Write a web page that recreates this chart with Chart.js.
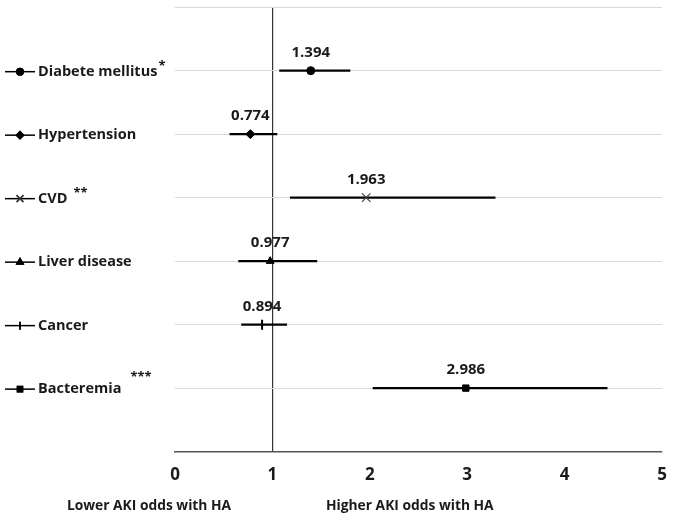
<!DOCTYPE html>
<html>
<head>
<meta charset="utf-8">
<script src="https://cdn.jsdelivr.net/npm/chart.js@4/dist/chart.umd.min.js"></script>
<style>
  html, body { margin: 0; padding: 0; background: #fff; }
  #wrap { width: 675px; height: 521px; }
</style>
</head>
<body>
<div id="wrap"><canvas id="c" width="675" height="521"></canvas></div>
<script>
const categories = ['Diabete mellitus', 'Hypertension', 'CVD', 'Liver disease', 'Cancer', 'Bacteremia'];
const significance = ['*', '', '**', '', '', '***'];
const oddsRatios = [1.394, 0.774, 1.963, 0.977, 0.894, 2.986];
const ciLower = [1.07, 0.56, 1.18, 0.65, 0.68, 2.03];
const ciUpper = [1.80, 1.05, 3.29, 1.46, 1.15, 4.44];
const xTickValues = [0, 1, 2, 3, 4, 5];
const axisNotes = ['Lower AKI odds with HA', 'Higher AKI odds with HA'];

const markerStyles = [
  { pointStyle: 'circle', radius: 4, borderWidth: 1, color: '#000' },
  { pointStyle: 'rectRot', radius: 4.5, borderWidth: 1, color: '#000' },
  { pointStyle: 'crossRot', radius: 6, borderWidth: 1.2, color: '#404040' },
  { pointStyle: 'triangle', radius: 4.5, borderWidth: 1, color: '#000' },
  { pointStyle: 'line', radius: 5, borderWidth: 2, color: '#000', rotation: 90 },
  { pointStyle: 'rect', radius: 4.5, borderWidth: 1, color: '#000' }
];

const nRows = categories.length;
const rowY = i => nRows - i;

const datasets = [];
categories.forEach((cat, i) => {
  datasets.push({
    label: cat + ' CI',
    data: [{ x: ciLower[i], y: rowY(i) }, { x: ciUpper[i], y: rowY(i) }],
    showLine: true,
    borderColor: '#000',
    borderWidth: 2.2,
    pointRadius: 0,
    order: 2
  });
});
categories.forEach((cat, i) => {
  const m = markerStyles[i];
  datasets.push({
    label: cat,
    data: [{ x: oddsRatios[i], y: rowY(i) }],
    pointStyle: m.pointStyle,
    pointRadius: m.radius,
    pointRotation: m.rotation || 0,
    pointBorderWidth: m.borderWidth,
    pointBackgroundColor: m.color,
    pointBorderColor: m.color,
    showLine: false,
    order: 1
  });
});

const FONT = "'Open Sans', 'Liberation Sans', sans-serif";

const annotate = {
  id: 'annotate',
  afterDatasetsDraw(chart) {
    const ctx = chart.ctx;
    const xs = chart.scales.x, ys = chart.scales.y;
    ctx.save();
    // value labels
    ctx.font = `bold 15px ${FONT}`;
    ctx.fillStyle = '#1a1a1a';
    ctx.textAlign = 'center';
    ctx.textBaseline = 'middle';
    oddsRatios.forEach((v, i) => {
      ctx.fillText(v.toFixed(3), xs.getPixelForValue(v), ys.getPixelForValue(rowY(i)) - 18);
    });
    // left category labels with legend symbols
    categories.forEach((cat, i) => {
      const y = ys.getPixelForValue(rowY(i)) + 1;
      const m = markerStyles[i];
      ctx.strokeStyle = '#000';
      ctx.lineWidth = 1.5;
      ctx.beginPath();
      ctx.moveTo(5, y); ctx.lineTo(35, y); ctx.stroke();
      Chart.helpers.drawPoint(ctx, {
        pointStyle: m.pointStyle, radius: m.radius * 0.8, rotation: m.rotation || 0,
        borderWidth: m.borderWidth
      }, 20, y);
      ctx.strokeStyle = m.color;
      ctx.fillStyle = m.color;
      ctx.fill();
      ctx.stroke();
      ctx.fillStyle = '#1a1a1a';
      ctx.font = `bold 14.5px ${FONT}`;
      ctx.textAlign = 'left';
      ctx.textBaseline = 'middle';
      ctx.fillText(cat, 38, y);
      const w = ctx.measureText(cat).width;
      const sig = significance[i];
      if (sig) {
        ctx.font = `bold 13px ${FONT}`;
        let gap = 1, lift = 5;
        if (sig.length === 2) { gap = 6; lift = 5; }
        if (sig.length === 3) { gap = 9; lift = 12; }
        ctx.fillText(sig, 38 + w + gap, y - lift);
      }
    });
    // axis notes
    ctx.fillStyle = '#1a1a1a';
    ctx.font = `bold 13.8px ${FONT}`;
    ctx.textAlign = 'center';
    ctx.fillText(axisNotes[0], xs.getPixelForValue(0) - 26, 506);
    ctx.fillText(axisNotes[1], xs.getPixelForValue(2) + 40, 506);
    ctx.restore();
  }
};

new Chart(document.getElementById('c'), {
  type: 'scatter',
  data: { datasets },
  options: {
    responsive: false,
    animation: false,
    devicePixelRatio: 1,
    layout: { padding: { left: 175, top: 6, right: 13, bottom: 23 } },
    plugins: { legend: { display: false }, tooltip: { enabled: false } },
    scales: {
      x: {
        type: 'linear', min: 0, max: 5,
        afterBuildTicks: s => { s.ticks = xTickValues.map(v => ({ value: v })); },
        afterFit: s => { s.paddingRight = 0; s.paddingLeft = 0; },
        grid: {
          drawTicks: false,
          color: c => (c.tick && c.tick.value === 1) ? '#333' : 'rgba(0,0,0,0)',
          lineWidth: 1.2
        },
        border: { display: true, color: '#555', width: 1.5 },
        ticks: { padding: 13, color: '#1a1a1a', font: { family: FONT, size: 17, weight: 'bold' } }
      },
      y: {
        type: 'linear', min: 0, max: nRows + 1,
        ticks: { display: false, stepSize: 1 },
        grid: { drawTicks: false, color: '#d9d9d9', lineWidth: 1 },
        border: { display: false }
      }
    }
  },
  plugins: [annotate]
});
</script>
</body>
</html>
